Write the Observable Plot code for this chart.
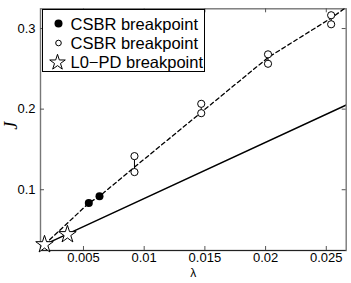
<!DOCTYPE html>
<html>
<head>
<meta charset="utf-8">
<script src="https://cdn.jsdelivr.net/npm/d3@7"></script>
<script src="https://cdn.jsdelivr.net/npm/@observablehq/plot@0.6"></script>
<style>
  body { margin: 0; background: #fff; }
  #wrap { position: relative; width: 351px; height: 283px; }
  #legend { position: absolute; left: 41.5px; top: 9px; width: 163px; height: 63px;
    border: 1px solid #000; background: #fff; box-sizing: border-box;
    font-family: "Liberation Sans", Arial, sans-serif; font-size: 16.5px; }
</style>
</head>
<body>
<div id="wrap"></div>
<script>
// ---- data ----
const filledLambda = [0.00544, 0.00632];
const filledJ = [0.0834, 0.092];
const openLambda = [0.0092, 0.0092, 0.0147, 0.0147, 0.0202, 0.0202, 0.0254, 0.0254];
const openJ = [0.1417, 0.1219, 0.2066, 0.1950, 0.2680, 0.2563, 0.3165, 0.3053];
const starLambda = [0.00179, 0.00368];
const starJ = [0.032, 0.0445];
const solidLambda = [0.00179, 0.0267];
const solidJ = [0.032, 0.2055];
const dashLambda = [0.00179, 0.00544, 0.00632, 0.0092, 0.0147, 0.0202, 0.0254, 0.0268];
const dashJ = [0.032, 0.0834, 0.092, 0.128, 0.196, 0.264, 0.313, 0.328];
const xTicks = [0.005, 0.01, 0.015, 0.02, 0.025];
const xTickLabels = ["0.005", "0.01", "0.015", "0.02", "0.025"];
const yTicks = [0.1, 0.2, 0.3];
const yTickLabels = ["0.1", "0.2", "0.3"];
const legendLabels = ["CSBR breakpoint", "CSBR breakpoint", "L0\u2212PD breakpoint"];

// ---- tables ----
const filled = filledLambda.map((x, i) => ({x, y: filledJ[i]}));
const open = openLambda.map((x, i) => ({x, y: openJ[i]}));
const pairs = [];
for (let i = 0; i < open.length; i += 2) pairs.push({x: open[i].x, y1: open[i].y, y2: open[i + 1].y});
const stars = starLambda.map((x, i) => ({x, y: starJ[i]}));
const solid = solidLambda.map((x, i) => ({x, y: solidJ[i]}));
const dash = dashLambda.map((x, i) => ({x, y: dashJ[i]}));

const W = 351, H = 283, mL = 40, mR = 5.3, mT = 8.3, mB = 33;
const fh = H - mT - mB;
const tickLen = 4;
const font = "Liberation Sans, Arial, sans-serif";

const chart = Plot.plot({
  width: W, height: H,
  marginLeft: mL, marginRight: mR, marginTop: mT, marginBottom: mB,
  style: {fontFamily: font, fontSize: "13px", background: "#fff", color: "#000"},
  x: {domain: [0.00146, 0.02664]},
  y: {domain: [0.0246, 0.3245]},
  marks: [
    Plot.axisX(xTicks, {tickSize: 0, tickPadding: 2, tickFormat: (d, i) => xTickLabels[i], fontSize: 13, label: null}),
    Plot.axisY(yTicks, {tickSize: 0, tickPadding: 5, tickFormat: (d, i) => yTickLabels[i], fontSize: 13, label: null}),
    Plot.frame({stroke: "#777", strokeWidth: 1.4}),
    Plot.ruleY([0], {y: () => 0.0246, stroke: "#222", strokeWidth: 1}),
    // inward ticks on four sides
    Plot.tickX(xTicks, {x: d => d, insetTop: fh - tickLen, stroke: "#555"}),
    Plot.tickX(xTicks, {x: d => d, insetBottom: fh - tickLen, stroke: "#555"}),
    Plot.tickY(yTicks, {y: d => d, insetRight: (W - mL - mR) - tickLen, stroke: "#555"}),
    Plot.tickY(yTicks, {y: d => d, insetLeft: (W - mL - mR) - tickLen, stroke: "#555"}),
    Plot.line(solid, {x: "x", y: "y", stroke: "#000", strokeWidth: 1.4, clip: true}),
    Plot.line(dash, {x: "x", y: "y", stroke: "#000", strokeWidth: 1.3, strokeDasharray: "4,3", clip: true}),
    Plot.ruleX(pairs, {x: "x", y1: "y1", y2: "y2", stroke: "#000", strokeWidth: 1}),
    Plot.dot(open, {x: "x", y: "y", r: 3.6, fill: "#fff", stroke: "#000", strokeWidth: 1}),
    Plot.dot(filled, {x: "x", y: "y", r: 4, fill: "#000", stroke: "none"}),
    Plot.dot(stars, {x: "x", y: "y", symbol: "star", r: 5.5, fill: "#fff", stroke: "#000", strokeWidth: 1}),
    Plot.text(["\u03bb"], {frameAnchor: "bottom", dy: 26, fontSize: 12, fontFamily: font}),
    Plot.text(["J"], {frameAnchor: "left", dx: -29, rotate: -90, fontSize: 18, fontStyle: "italic", fontFamily: "Liberation Serif, serif"})
  ]
});

const wrap = document.getElementById("wrap");
wrap.appendChild(chart);

// ---- legend overlay ----
const legend = document.createElement("div");
legend.id = "legend";
const ls = d3.select(legend).append("svg").attr("width", 161).attr("height", 61)
  .style("position", "absolute").style("left", "0").style("top", "0");
const rowsY = [13.5, 33, 52];
ls.append("circle").attr("cx", 15.5).attr("cy", rowsY[0]).attr("r", 4).attr("fill", "#000");
ls.append("circle").attr("cx", 15.5).attr("cy", rowsY[1]).attr("r", 2.8).attr("fill", "#fff").attr("stroke", "#000").attr("stroke-width", 1);
ls.append("path").attr("d", d3.symbol(d3.symbolStar, 75)()).attr("transform", `translate(14.5,${rowsY[2] + 0.5})`)
  .attr("fill", "#fff").attr("stroke", "#000").attr("stroke-width", 1);
legendLabels.forEach((t, i) => {
  ls.append("text").attr("x", 27.5).attr("y", rowsY[i] + 6).text(t)
    .attr("font-family", font).attr("font-size", 16.5).attr("fill", "#000");
});
wrap.appendChild(legend);
</script>
</body>
</html>
